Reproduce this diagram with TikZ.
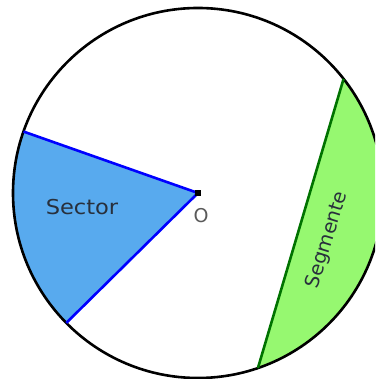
\documentclass[tikz,border=0pt]{standalone}
\usepackage{fontspec}
\setmainfont{DejaVu Sans}
\usetikzlibrary{calc}
\definecolor{sectorfill}{RGB}{88,170,238}
\definecolor{segfill}{RGB}{150,248,112}
\definecolor{segline}{RGB}{0,115,0}
\definecolor{labelgray}{RGB}{40,48,60}
\definecolor{ogray}{RGB}{90,90,90}
\begin{document}
\begin{tikzpicture}[x=1pt,y=1pt,
  lbl/.style={inner sep=0pt}]
\useasboundingbox (0,0) rectangle (375,379);
\clip (0,0) rectangle (375,379);
\coordinate (O) at (198,186);
\def\R{185}
% sector
\fill[sectorfill] (O) -- ($(O)+(160.6:\R)$) arc[start angle=160.6,end angle=224.6,radius=\R] -- cycle;
% segment
\fill[segfill] ($(O)+(-71.1:\R)$) coordinate (S1) arc[start angle=-71.1,end angle=38.1,radius=\R] coordinate (S2) -- cycle;
% circle
\draw[line width=2.6pt] (O) circle[radius=\R];
% radii
\coordinate (A) at ($(O)+(160.6:\R)$);
\coordinate (B) at ($(O)+(224.6:\R)$);
\draw[blue,line width=2.6pt] (A) -- (O) -- (B);
\draw[segline,line width=2.6pt] (S1) -- (S2);
\fill[black] ($(O)+(-3.2,-3.2)$) rectangle ($(O)+(3.2,3.2)$);
\node[lbl,text=labelgray,xscale=1.1,font=\fontsize{20.5}{20.5}\selectfont] (sec) at (82,172) {Sector};
\node[lbl,text=ogray,font=\fontsize{19}{19}\selectfont] (olbl) at (201,163) {O};
\node[lbl,text=labelgray,rotate=72.8,font=\fontsize{19.5}{19.5}\selectfont] (seg) at (327.5,139) {Segmente};
\end{tikzpicture}
\end{document}
